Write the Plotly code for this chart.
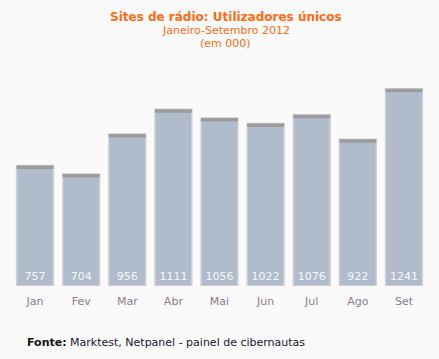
import plotly.graph_objects as go

months = ["Jan", "Fev", "Mar", "Abr", "Mai", "Jun", "Jul", "Ago", "Set"]
users = [757, 704, 956, 1111, 1056, 1022, 1076, 922, 1241]
cap = 22

fig = go.Figure()
fig.add_trace(go.Bar(
    x=months, y=users,
    marker=dict(color="#b0bccc", line=dict(color="#d2d2d2", width=1.5)),
    text=[str(v) for v in users], textposition="inside", insidetextanchor="start",
    textfont=dict(color="#f4f6f9", size=11, family="DejaVu Sans"),
    hoverinfo="skip",
))
fig.add_trace(go.Bar(
    x=months, y=[cap] * len(users), base=[v - cap for v in users],
    marker=dict(color="#9c9c9c", line=dict(width=0)),
    hoverinfo="skip",
))

fig.update_layout(
    width=439, height=359,
    margin=dict(l=12, r=12, t=60, b=73),
    paper_bgcolor="#fafafa", plot_bgcolor="#fafafa",
    barmode="overlay", bargap=0.2, showlegend=False,
    xaxis=dict(showgrid=False, showline=False, zeroline=False, ticks="",
               ticklabelstandoff=7,
               tickfont=dict(color="#8a808a", size=11, family="DejaVu Sans"),
               range=[-0.5, 8.5]),
    yaxis=dict(visible=False, range=[0, 1421]),
    font=dict(family="DejaVu Sans"),
)
H = 359 - 60 - 73
def py(pix):
    return (359 - 73 - pix) / H
fig.add_annotation(text="<b>Sites de rádio: Utilizadores únicos</b>", x=0.515, y=py(17), xref="paper", yref="paper",
                   showarrow=False, font=dict(color="#ff6a13", size=12), yanchor="middle")
fig.add_annotation(text="Janeiro-Setembro 2012", x=0.515, y=py(31), xref="paper", yref="paper",
                   showarrow=False, font=dict(color="#ff6a13", size=11), yanchor="middle")
fig.add_annotation(text="(em 000)", x=0.515, y=py(44), xref="paper", yref="paper",
                   showarrow=False, font=dict(color="#ff6a13", size=11), yanchor="middle")
fig.add_annotation(text="<b style='color:#111111'>Fonte:</b> Marktest, Netpanel - painel de cibernautas", x=(25 - 12) / 415, y=py(342),
                   xref="paper", yref="paper", xanchor="left", yanchor="middle",
                   showarrow=False, font=dict(color="#1a1433", size=11))

fig.write_html("out.html")
